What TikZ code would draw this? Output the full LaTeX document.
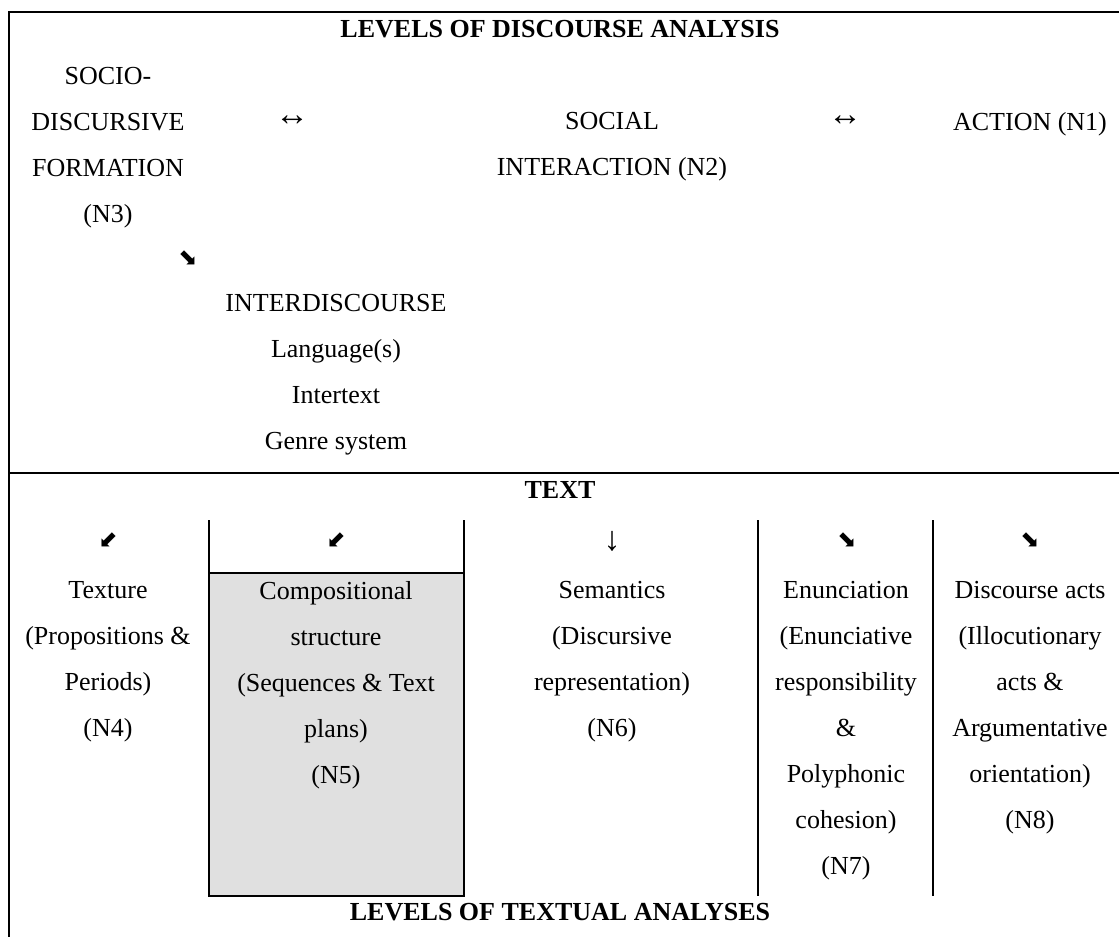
\documentclass[tikz,border=0pt]{standalone}
\usepackage{fontspec}
\setmainfont{Liberation Serif}
\newfontfamily\arrowfont{DejaVu Sans}
\usepackage{xcolor}
\definecolor{cellgray}{HTML}{E0E0E0}
\usetikzlibrary{positioning}
\tikzset{
  cell/.style={align=center, inner sep=0pt, anchor=north,
               font=\fontsize{26}{46}\selectfont},
  head/.style={cell, font=\fontsize{26}{46}\selectfont\bfseries},
  link/.style={inner sep=0pt, font=\fontsize{34}{40}\selectfont},
  pointer/.style={inner sep=0pt, font=\fontsize{23}{26}\selectfont\arrowfont},
  rule/.style={line width=2pt},
  shade/.style={fill=cellgray, draw=black, line width=2pt},
}
\begin{document}
\begin{tikzpicture}[x=1pt, y=-1pt]
  \useasboundingbox (0,0) rectangle (1119,937);
  % gray cell and table rules
  \filldraw[shade] (209,573) rectangle (464,896);
  \draw[rule] (1119,12) -- (9,12) -- (9,937);
  \draw[rule] (9,473) -- (1119,473);
  \foreach \xcol in {209,464,758,933}
    \draw[rule] (\xcol,520) -- (\xcol,896);
  % discourse levels
  \node[head] (title) at (560,20) {LEVELS OF DISCOURSE ANALYSIS};
  \node[cell] (n3) at (108,67) {SOCIO-\\DISCURSIVE\\FORMATION\\(N3)};
  \node[link] (lr1) at (292,121) {↔};
  \node[cell] (n2) at (612,112) {SOCIAL\\INTERACTION (N2)};
  \node[link] (lr2) at (845,121) {↔};
  \node[cell] (n1) at (1030,112) {ACTION (N1)};
  \node[pointer] (se0) at (188,258) {⬊};
  \node[cell] (inter) at (336,294) {INTERDISCOURSE\\Language(s)\\Intertext\\Genre system};
  % textual levels
  \node[head] (text) at (560,481) {TEXT};
  \node[pointer] (sw1) at (108,540) {⬋};
  \node[pointer] (sw2) at (336,540) {⬋};
  \node[link] (dn) at (612,541) {↓};
  \node[pointer] (se1) at (847,540) {⬊};
  \node[pointer] (se2) at (1030,540) {⬊};
  \node[cell] (n4) at (108,581) {Texture\\(Propositions \&\\Periods)\\(N4)};
  \node[cell] (n5) at (336,581) {Compositional\\structure\\(Sequences \& Text\\plans)\\(N5)};
  \node[cell] (n6) at (612,581) {Semantics\\(Discursive\\representation)\\(N6)};
  \node[cell] (n7) at (846,581) {Enunciation\\(Enunciative\\responsibility\\\&\\Polyphonic\\cohesion)\\(N7)};
  \node[cell] (n8) at (1030,581) {Discourse acts\\(Illocutionary\\acts \&\\Argumentative\\orientation)\\(N8)};
  \node[head] (bottom) at (560,903) {LEVELS OF TEXTUAL ANALYSES};
\end{tikzpicture}
\end{document}
